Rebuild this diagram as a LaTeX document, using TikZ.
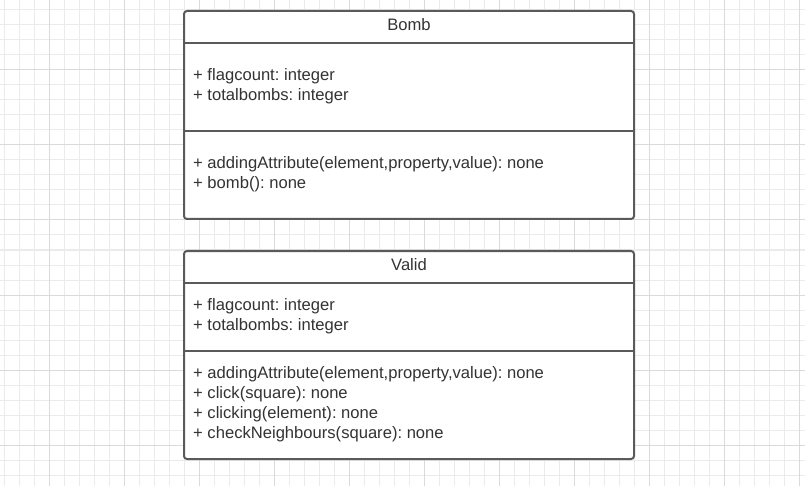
\documentclass[tikz,border=0pt]{standalone}
\usepackage{fontspec}
\setmainfont{Liberation Sans}
\frenchspacing
\definecolor{gridminor}{HTML}{EBEBEB}
\definecolor{gridmajor}{HTML}{DADADA}
\definecolor{boxline}{HTML}{5A5A5A}
\definecolor{txt}{HTML}{333333}
\tikzset{
  umlbox/.style={draw=boxline, line width=2pt, rounded corners=3pt, fill=white},
  sep/.style={draw=boxline, line width=2pt},
  member/.style={anchor=base west, inner sep=0pt, font=\fontsize{16.6}{18}\selectfont, text=txt},
  title/.style={anchor=base, inner sep=0pt, font=\fontsize{16.6}{18}\selectfont, text=txt}
}
\begin{document}
\begin{tikzpicture}[x=1pt,y=-1pt]
\useasboundingbox (0,0) rectangle (805,486);
\fill[white] (0,0) rectangle (805,486);
% grid
\foreach \x in {4,19,...,804} \draw[gridminor, line width=1pt] (\x,0) -- (\x,486);
\foreach \y in {10,25,...,485} \draw[gridminor, line width=1pt] (0,\y) -- (805,\y);
\foreach \x in {49,124,...,804} \draw[gridmajor, line width=1pt] (\x,0) -- (\x,486);
\foreach \y in {70,145,...,485} \draw[gridmajor, line width=1pt] (0,\y) -- (805,\y);
% Bomb
\draw[umlbox] (184,11) rectangle (634,219);
\coordinate (b1l) at (184,43); \coordinate (b1r) at (634,43);
\coordinate (b2l) at (184,131); \coordinate (b2r) at (634,131);
\draw[sep] (b1l) -- (b1r);
\draw[sep] (b2l) -- (b2r);
\node[title] (bombtitle) at (409,30.5) {Bomb};
\node[member] (ba1) at (193,80.5) {+ flagcount: integer};
\node[member] (ba2) at (193,100.5) {+ totalbombs: integer};
\node[member] (bm1) at (193,168.5) {+ addingAttribute(element,property,value): none};
\node[member] (bm2) at (193,188.5) {+ bomb(): none};
% Valid
\draw[umlbox] (184,251) rectangle (634,459);
\coordinate (v1l) at (184,283); \coordinate (v1r) at (634,283);
\coordinate (v2l) at (184,351); \coordinate (v2r) at (634,351);
\draw[sep] (v1l) -- (v1r);
\draw[sep] (v2l) -- (v2r);
\node[title] (validtitle) at (409,270.5) {Valid};
\node[member] (va1) at (193,310.5) {+ flagcount: integer};
\node[member] (va2) at (193,330.5) {+ totalbombs: integer};
\node[member] (vm1) at (193,378.5) {+ addingAttribute(element,property,value): none};
\node[member] (vm2) at (193,398.5) {+ click(square): none};
\node[member] (vm3) at (193,418.5) {+ clicking(element): none};
\node[member] (vm4) at (193,438.5) {+ checkNeighbours(square): none};
\end{tikzpicture}
\end{document}
